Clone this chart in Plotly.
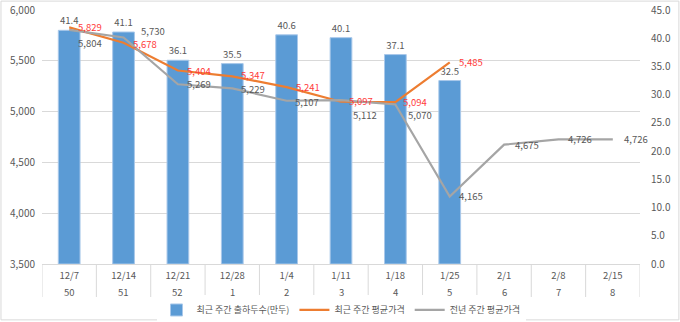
import plotly.graph_objects as go

# Weekly categories (date row / week-number row)
dates = ["12/7", "12/14", "12/21", "12/28", "1/4", "1/11", "1/18", "1/25", "2/1", "2/8", "2/15"]
weeks = ["50", "51", "52", "1", "2", "3", "4", "5", "6", "7", "8"]

# Weekly shipments (10k head) and average prices
shipments = [41.4, 41.1, 36.1, 35.5, 40.6, 40.1, 37.1, 32.5]
price_recent = [5829, 5678, 5404, 5347, 5241, 5097, 5094, 5485]
price_prev = [5804, 5730, 5269, 5229, 5107, 5112, 5070, 4165, 4675, 4726, 4726]

FONT = "Noto Sans CJK KR"
TXT = "#595959"
BLUE = "#5B9BD5"
ORANGE = "#ED7D31"
GRAY = "#A5A5A5"
RED = "#FF3B3B"
LBL = 9.5

fig = go.Figure()

fig.add_trace(go.Bar(
    x=dates[:len(shipments)], y=shipments, name="최근 주간 출하두수(만두)",
    marker=dict(color=BLUE, line=dict(color="#A9C8EA", width=1)),
    width=0.4,
    text=[f"{v:.1f}" for v in shipments], textposition="outside",
    textfont=dict(family=FONT, size=LBL, color=TXT),
    cliponaxis=False, yaxis="y",
))
fig.add_trace(go.Scatter(
    x=dates[:len(price_recent)], y=price_recent, name="최근 주간 평균가격",
    mode="lines", line=dict(color=ORANGE, width=2.2), yaxis="y2",
))
fig.add_trace(go.Scatter(
    x=dates, y=price_prev, name="전년 주간 평균가격",
    mode="lines", line=dict(color=GRAY, width=2.2), yaxis="y2",
))

annotations = []
# price labels
recent_shift = [(8, 0), (8, -1), (8, 0), (8, 1), (8, 0), (7, 1), (7, 0), (8, 0)]
for d, v, (sx, sy) in zip(dates, price_recent, recent_shift):
    annotations.append(dict(x=d, y=v, xref="x", yref="y2", text=f"{v:,}",
                            showarrow=False, xanchor="left", yanchor="middle",
                            xshift=sx, yshift=sy, borderpad=0,
                            font=dict(family=FONT, size=LBL, color=RED)))
prev_shift = [(8, -13), (16, 6), (8, 0), (8, -1), (7, -1), (11, -15), (12, -11),
              (8, 0), (10, 0), (9, 0), (10, 0)]
for d, v, (sx, sy) in zip(dates, price_prev, prev_shift):
    annotations.append(dict(x=d, y=v, xref="x", yref="y2", text=f"{v:,}",
                            showarrow=False, xanchor="left", yanchor="middle",
                            xshift=sx, yshift=sy, borderpad=0,
                            font=dict(family=FONT, size=LBL, color=TXT)))
# week-number row under the dates
for d, w in zip(dates, weeks):
    annotations.append(dict(x=d, y=-0.11, xref="x", yref="paper", text=w,
                            showarrow=False, xanchor="center", yanchor="middle",
                            font=dict(family=FONT, size=9.5, color=TXT)))

shapes = []
# category dividers below the axis
for i in range(len(dates) + 1):
    shapes.append(dict(type="line", xref="x", yref="paper", x0=i - 0.5, x1=i - 0.5,
                       y0=0, y1=-0.13, line=dict(color="#D9D9D9", width=1)))
# chart-area border
shapes.append(dict(type="rect", xref="paper", yref="paper",
                   x0=-0.0686, x1=1.065, y0=-0.22, y1=1.035,
                   line=dict(color="#D9D9D9", width=1)))

fig.update_layout(
    width=680, height=322,
    margin=dict(l=42, r=40, t=10, b=58, autoexpand=False),
    paper_bgcolor="white", plot_bgcolor="white",
    font=dict(family=FONT, size=10, color=TXT),
    showlegend=True,
    legend=dict(orientation="h", x=0.5, xanchor="center", y=-0.181, yanchor="middle",
                font=dict(family=FONT, size=9, color=TXT), itemwidth=30,
                tracegroupgap=0),
    bargap=0.6,
    xaxis=dict(type="category", categoryorder="array", categoryarray=dates,
               range=[-0.5, len(dates) - 0.5], showgrid=False,
               showline=True, linecolor="#D9D9D9", linewidth=1,
               ticks="outside", ticklen=3, tickcolor="rgba(0,0,0,0)",
               tickfont=dict(family=FONT, size=9.5, color=TXT)),
    yaxis=dict(side="right", range=[0, 45], dtick=5, tickformat=".1f",
               showgrid=False, zeroline=False, showline=False,
               ticks="outside", ticklen=8, tickcolor="rgba(0,0,0,0)",
               tickfont=dict(family=FONT, size=10, color=TXT)),
    yaxis2=dict(overlaying="y", side="left", range=[3500, 6000], dtick=500,
                tickformat=",", showgrid=True, gridcolor="#D9D9D9", gridwidth=1,
                zeroline=False, showline=False,
                ticks="outside", ticklen=4, tickcolor="rgba(0,0,0,0)",
                tickfont=dict(family=FONT, size=10, color=TXT)),
    annotations=annotations,
    shapes=shapes,
)

fig.write_html("out.html")
